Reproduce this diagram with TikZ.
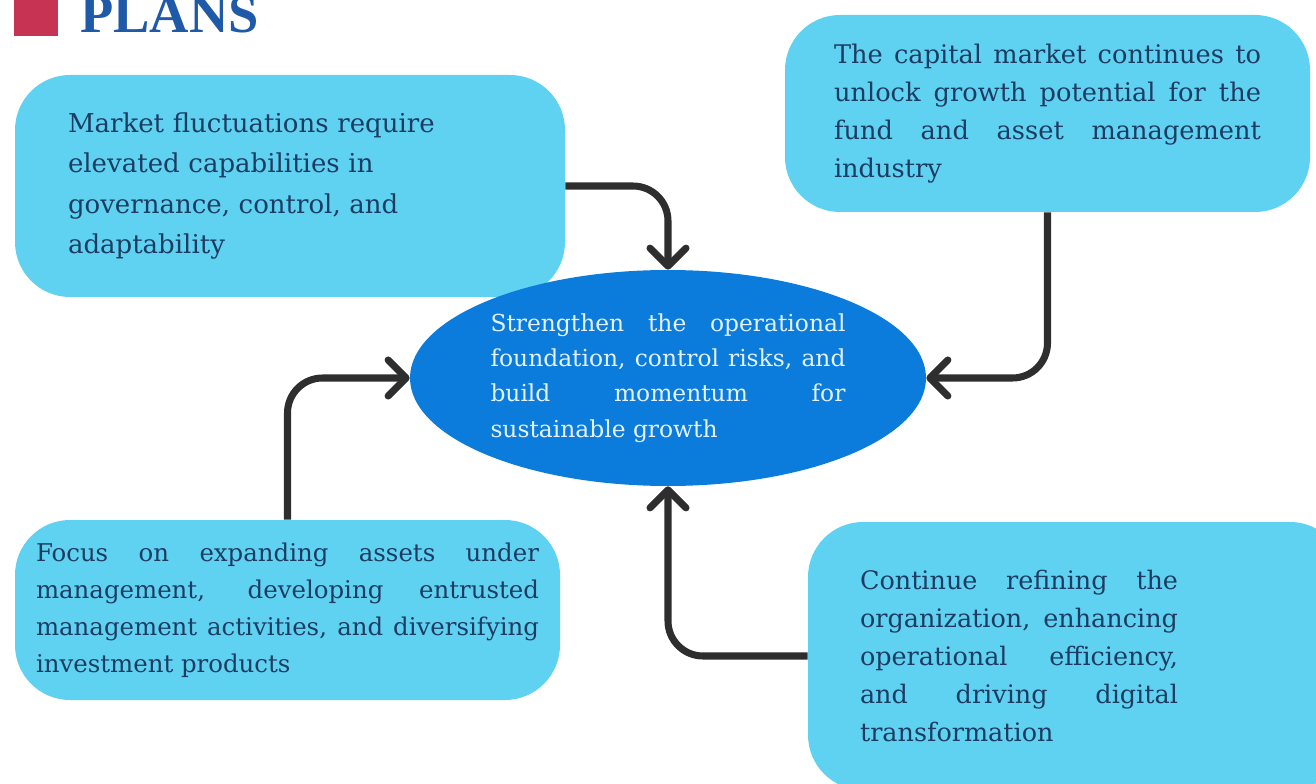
\documentclass[tikz,border=0pt]{standalone}
\usepackage{fontspec}
\setmainfont{DejaVu Serif}
\newfontfamily\headfont{Liberation Serif}
\usetikzlibrary{arrows.meta,shapes.geometric}
\definecolor{csky}{HTML}{60D2F1}
\definecolor{cblue}{HTML}{0C7CDC}
\definecolor{cnavy}{HTML}{1D3C63}
\definecolor{cpale}{HTML}{E4F2FF}
\definecolor{cink}{HTML}{2E2E2E}
\definecolor{ctitle}{HTML}{1E5AA8}
\definecolor{cred}{HTML}{C73352}
% no hyphens in the justified boxes
\hyphenpenalty=10000
\exhyphenpenalty=10000
\tikzset{
  >={Straight Barb[length=3.6mm,width=7.2mm,round]},
  pbox/.style={rounded corners=1.1cm,fill=csky,text=cnavy,inner sep=0pt,align=justify,
               font=\fontsize{14.5}{21.5}\selectfont},
  hub/.style={ellipse,fill=cblue,text=cpale,inner sep=0pt,align=justify,
              font=\fontsize{13.3}{20}\selectfont},
  link/.style={->,draw=cink,line width=4pt,rounded corners=0.7cm},
}

\begin{document}
\begin{tikzpicture}
\useasboundingbox (0,0) rectangle (26.32,-15.68);
\clip (0,0) rectangle (26.32,-15.68);

% heading
\fill[cred] (0.28,0.3) rectangle (1.16,-0.72);
\node[anchor=base west,inner sep=0pt,text=ctitle,font=\headfont\bfseries\fontsize{31}{31}\selectfont] (title) at (1.6,-0.66) {PLANS};

% outer drivers
\node[pbox,minimum width=11cm,minimum height=4.44cm,text width=8.88cm,align=left,
      font=\fontsize{14.8}{23}\selectfont] (mkt) at (5.8,-3.72)
  {Market fluctuations require\\ elevated capabilities in\\ governance, control, and\\ adaptability};
\node[pbox,minimum width=10.5cm,minimum height=3.94cm,text width=8.54cm,
      font=\fontsize{14.6}{21.5}\selectfont] (cap) at (20.95,-2.27)
  {The capital market continues to\linebreak unlock growth potential for the\linebreak
   fund and asset management\linebreak industry};
\node[pbox,minimum width=10.9cm,minimum height=3.6cm,text width=10.06cm,
      font=\fontsize{13.9}{21}\selectfont] (aum) at (5.75,-12.2)
  {Focus on expanding assets under\linebreak management, developing entrusted\linebreak
   management activities, and diversifying\linebreak investment products};
\node[pbox,minimum width=10.74cm,minimum height=5.36cm,text width=8.66cm] (org) at (21.53,-13.12)
  {\begin{minipage}{6.36cm}
   Continue refining the\linebreak organization, enhancing\linebreak operational efficiency,\linebreak
   and driving digital\linebreak transformation
   \end{minipage}};

% centre
\node[hub,minimum width=10.32cm,minimum height=4.32cm,text width=7.1cm] (core) at (13.36,-7.56)
  {Strengthen the operational\linebreak foundation, control risks, and\linebreak
   build momentum for\linebreak sustainable growth};

\draw[link] (mkt.east) -| (core.north);
\draw[link] (cap.south) |- (core.east);
\draw[link] (org.west) -| (core.south);
\draw[link] (aum.north) |- (core.west);

\end{tikzpicture}
\end{document}
